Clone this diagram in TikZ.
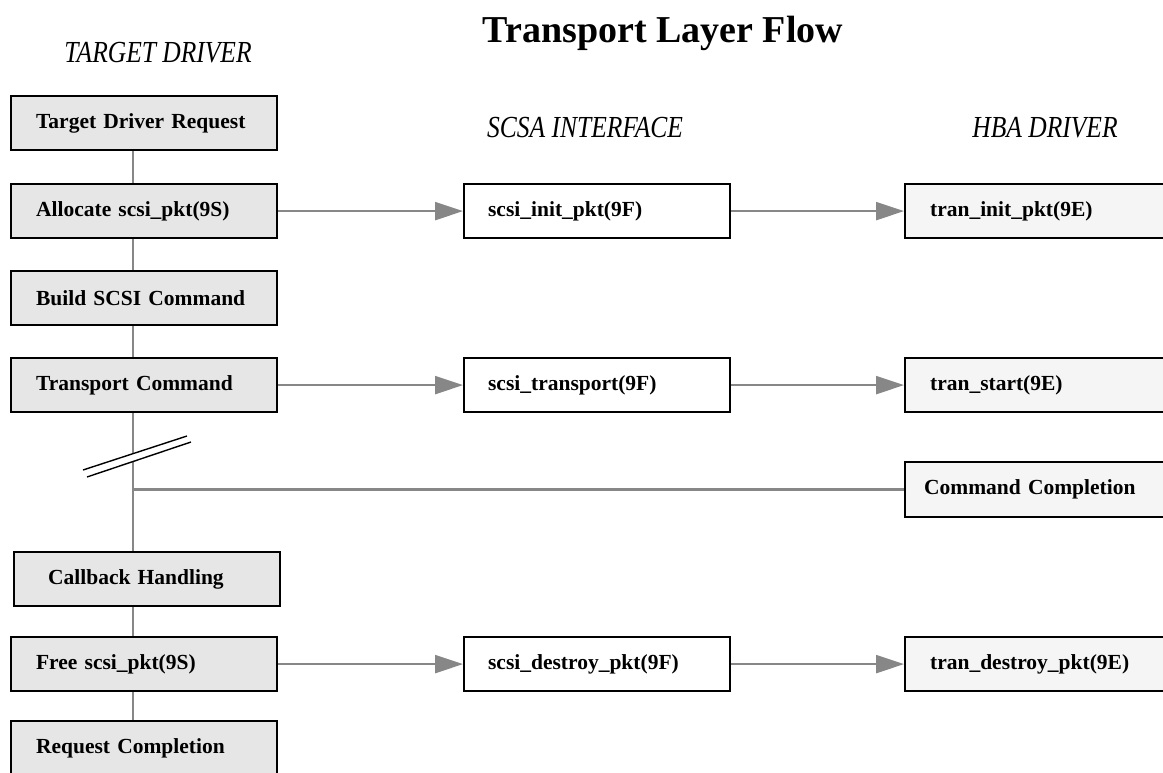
\documentclass[tikz,border=0pt]{standalone}
\usepackage{fontspec}
\setmainfont{Liberation Serif}
\usetikzlibrary{arrows.meta,calc}
\definecolor{lineg}{HTML}{878787}
\definecolor{tdfill}{HTML}{E6E6E6}
\definecolor{hbafill}{HTML}{F5F5F5}
\tikzset{
  box/.style={draw=black, line width=2.2pt, anchor=north west, minimum height=54pt,
    inner ysep=0pt, inner xsep=25pt, text width=216pt, align=left,
    font=\fontsize{21.5}{24}\selectfont\bfseries},
  tdbox/.style={box, fill=tdfill},
  scbox/.style={box, fill=white},
  hbbox/.style={box, fill=hbafill},
  conn/.style={draw=lineg, line width=2.4pt},
  flow/.style={conn, -{Triangle[length=28pt,width=18pt,fill=lineg]}},
  brk/.style={draw=black, line width=1.4pt},
  hdr/.style={anchor=base, font=\fontsize{25.5}{28}\selectfont\itshape},
  ttl/.style={anchor=base, font=\fontsize{38}{40}\selectfont\bfseries}
}
\begin{document}
\begin{tikzpicture}[x=1pt,y=-1pt]
\useasboundingbox (0,0) rectangle (1163,772);
\clip (0,0) rectangle (1163,772);
% titles
\node[ttl] (title) at (663,42) {Transport Layer Flow};
\node[hdr] (htd) at (158,62) {\scalebox{1}[1.2]{TARGET DRIVER}};
\node[hdr] (hsc) at (585,137) {\scalebox{1}[1.2]{SCSA INTERFACE}};
\node[hdr] (hhba) at (1045,137) {\scalebox{1}[1.2]{HBA DRIVER}};
% target driver column
\node[tdbox] (tdr) at (10,95) {Target Driver Request};
\node[tdbox] (alloc) at (10,183) {Allocate scsi\_pkt(9S)};
\node[tdbox] (build) at (10,270) {Build SCSI Command};
\node[tdbox] (trans) at (10,357) {Transport Command};
\node[tdbox, inner xsep=34pt, text width=198pt] (cb) at (13,551) {Callback Handling};
\node[tdbox] (free) at (10,636) {Free scsi\_pkt(9S)};
\node[tdbox] (reqc) at (10,720) {Request Completion};
% SCSA column
\node[scbox, inner xsep=24pt, text width=218pt] (sinit) at (463,183) {scsi\_init\_pkt(9F)};
\node[scbox, inner xsep=24pt, text width=218pt] (strans) at (463,357) {scsi\_transport(9F)};
\node[scbox, inner xsep=24pt, text width=218pt] (sdest) at (463,636) {scsi\_destroy\_pkt(9F)};
% HBA column
\node[hbbox] (tinit) at (904,183) {tran\_init\_pkt(9E)};
\node[hbbox] (tstart) at (904,357) {tran\_start(9E)};
\node[hbbox, inner xsep=19pt, text width=228pt, minimum height=55pt] (ccomp) at (904,461) {Command Completion};
\node[hbbox] (tdest) at (904,636) {tran\_destroy\_pkt(9E)};
% vertical spine
\coordinate (vx) at (133,0);
\coordinate (brkA) at (133,454);
\coordinate (brkB) at (133,462);
\draw[conn] (tdr.south -| vx) -- (alloc.north -| vx);
\draw[conn] (alloc.south -| vx) -- (build.north -| vx);
\draw[conn] (build.south -| vx) -- (trans.north -| vx);
\draw[conn] (trans.south -| vx) -- (brkA);
\draw[conn] (brkB) -- (cb.north -| vx);
\draw[conn] (cb.south -| vx) -- (free.north -| vx);
\draw[conn] (free.south -| vx) -- (reqc.north -| vx);
\draw[conn] (ccomp.west) -- (ccomp.west -| vx);
% break marks
\coordinate (b1s) at (83,470);
\coordinate (b1e) at (187,436);
\coordinate (b2s) at (87,477);
\coordinate (b2e) at (191,442);
\draw[brk] (b1s) -- (b1e);
\draw[brk] (b2s) -- (b2e);
% flow arrows
\draw[flow] (alloc.east) -- (sinit.west);
\draw[flow] (sinit.east) -- (tinit.west);
\draw[flow] (trans.east) -- (strans.west);
\draw[flow] (strans.east) -- (tstart.west);
\draw[flow] (free.east) -- (sdest.west);
\draw[flow] (sdest.east) -- (tdest.west);
\end{tikzpicture}
\end{document}
